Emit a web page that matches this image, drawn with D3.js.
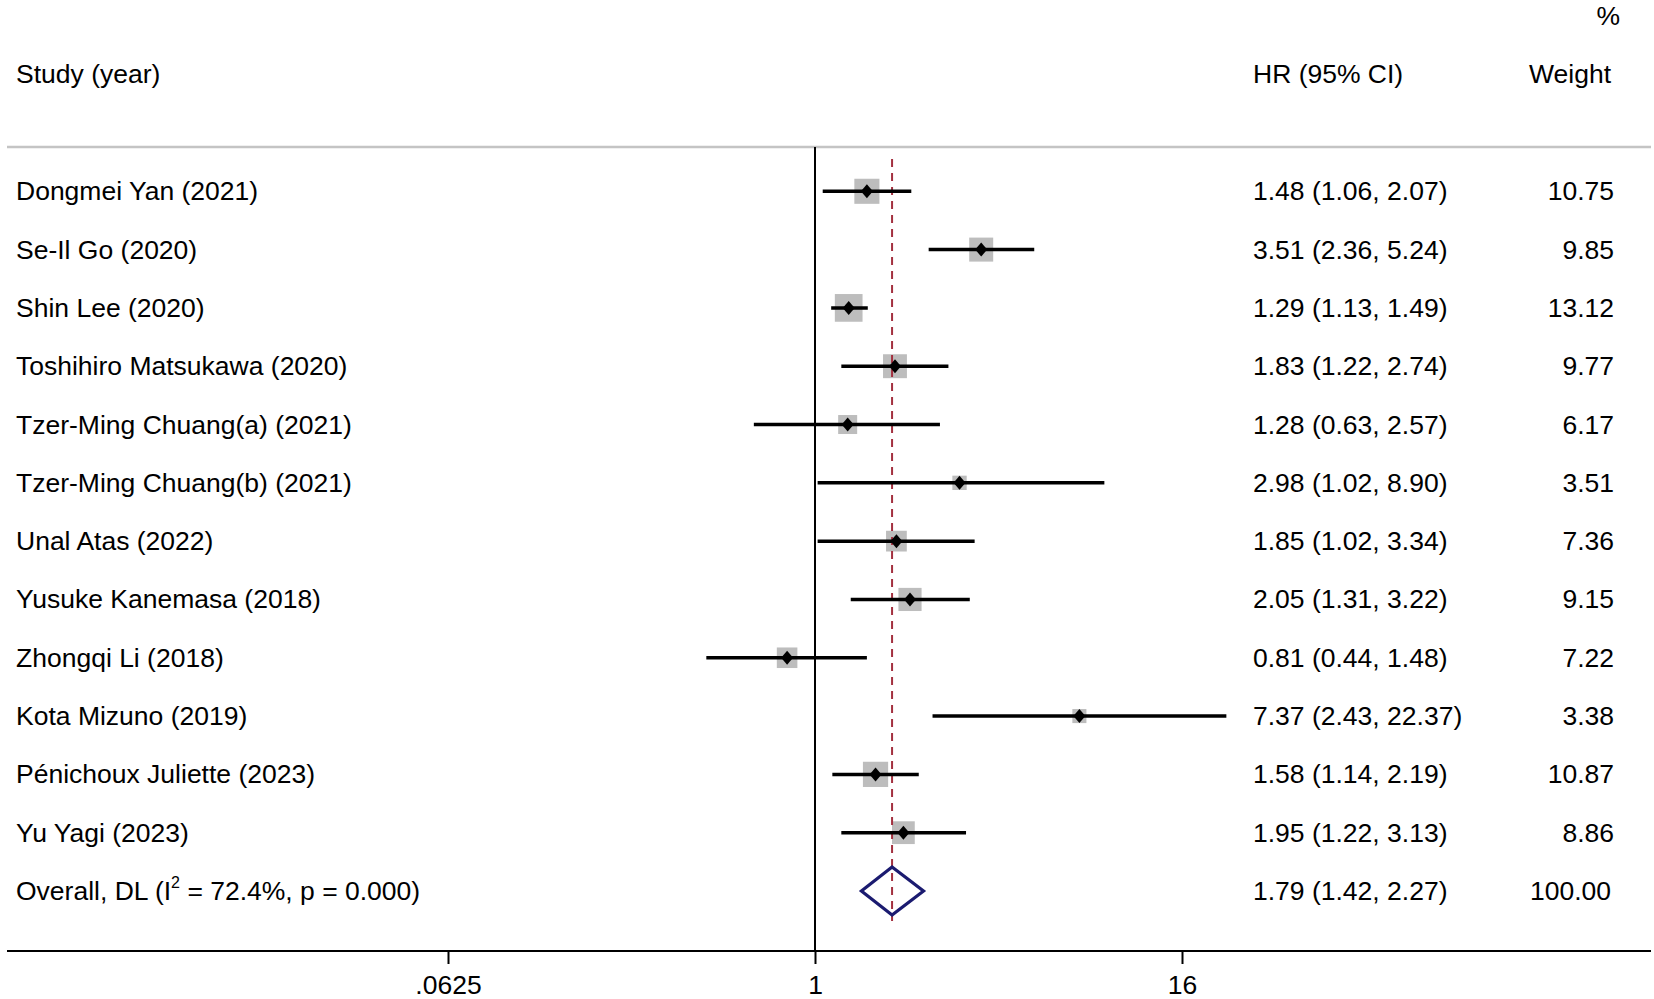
<!DOCTYPE html>
<html><head><meta charset="utf-8">
<script src="https://cdn.jsdelivr.net/npm/d3@7"></script>
<style>
body{margin:0;background:#fff;}
svg{display:block;font-family:"Liberation Sans",Arial,sans-serif;}
</style>
</head><body>
<svg id="chart" width="1654" height="999"></svg>
<script>
// ---- data ----
const studies = [
  "Dongmei Yan (2021)",
  "Se-Il Go (2020)",
  "Shin Lee (2020)",
  "Toshihiro Matsukawa (2020)",
  "Tzer-Ming Chuang(a) (2021)",
  "Tzer-Ming Chuang(b) (2021)",
  "Unal Atas (2022)",
  "Yusuke Kanemasa (2018)",
  "Zhongqi Li (2018)",
  "Kota Mizuno (2019)",
  "Pénichoux Juliette (2023)",
  "Yu Yagi (2023)"
];
const hr      = [1.48, 3.51, 1.29, 1.83, 1.28, 2.98, 1.85, 2.05, 0.81, 7.37, 1.58, 1.95];
const lower   = [1.06, 2.36, 1.13, 1.22, 0.63, 1.02, 1.02, 1.31, 0.44, 2.43, 1.14, 1.22];
const upper   = [2.07, 5.24, 1.49, 2.74, 2.57, 8.90, 3.34, 3.22, 1.48, 22.37, 2.19, 3.13];
const weights = [10.75, 9.85, 13.12, 9.77, 6.17, 3.51, 7.36, 9.15, 7.22, 3.38, 10.87, 8.86];
const overallHR = 1.79, overallLower = 1.42, overallUpper = 2.27, overallWeight = 100.00;
const overallLabelA = "Overall, DL (I", overallLabelSup = "2", overallLabelB = " = 72.4%, p = 0.000)";
const headers = {study: "Study (year)", ci: "HR (95% CI)", weight: "Weight", pct: "%"};
const tickValues = [0.0625, 1, 16];
const tickLabels = [".0625", "1", "16"];

// ---- layout ----
const svg = d3.select("#chart");
const FS = 26.5;
const f2 = d3.format(".2f");
const x = d3.scaleLog().base(2).domain([0.0625, 16]).range([448, 1182]);
const y = d3.scalePoint().domain(d3.range(studies.length + 1)).range([191.3, 891]);
const axisY = 951, topLineY = 147;
const colStudy = 16, colCI = 1253, colW = 1614;

// header
svg.append("text").attr("x", 1620).attr("y", 25).attr("text-anchor", "end")
  .attr("font-size", FS).text(headers.pct);
svg.append("text").attr("x", colStudy).attr("y", 83).attr("font-size", FS).text(headers.study);
svg.append("text").attr("x", colCI).attr("y", 83).attr("font-size", FS).text(headers.ci);
svg.append("text").attr("x", 1611).attr("y", 83).attr("text-anchor", "end")
  .attr("font-size", FS).text(headers.weight);

svg.append("line").attr("x1", 7).attr("x2", 1651).attr("y1", topLineY).attr("y2", topLineY)
  .attr("stroke", "#c4c4c4").attr("stroke-width", 2.5);

// null line
svg.append("line").attr("x1", x(1)).attr("x2", x(1)).attr("y1", topLineY).attr("y2", axisY)
  .attr("stroke", "#000").attr("stroke-width", 2);

const idx = d3.range(studies.length);

// boxes
svg.append("g").selectAll("rect").data(idx).join("rect")
  .attr("x", i => x(hr[i]) - 3.83 * Math.sqrt(weights[i]))
  .attr("y", i => y(i) - 3.83 * Math.sqrt(weights[i]))
  .attr("width", i => 7.65 * Math.sqrt(weights[i]))
  .attr("height", i => 7.65 * Math.sqrt(weights[i]))
  .attr("fill", "#bdbdbd");

// overall effect dashed line
svg.append("line").attr("x1", x(overallHR)).attr("x2", x(overallHR))
  .attr("y1", 159).attr("y2", 921)
  .attr("stroke", "#a3303f").attr("stroke-width", 2).attr("stroke-dasharray", "8,6");

// CI lines
svg.append("g").selectAll("line").data(idx).join("line")
  .attr("x1", i => x(lower[i])).attr("x2", i => x(upper[i]))
  .attr("y1", i => y(i)).attr("y2", i => y(i))
  .attr("stroke", "#000").attr("stroke-width", 3.5);

// point markers
svg.append("g").selectAll("path").data(idx).join("path")
  .attr("d", i => {
    const cx = x(hr[i]), cy = y(i);
    return `M${cx - 6},${cy}L${cx},${cy - 7}L${cx + 6},${cy}L${cx},${cy + 7}Z`;
  })
  .attr("fill", "#000");

// overall diamond
const oy = y(studies.length);
svg.append("path")
  .attr("d", `M${x(overallLower)},${oy}L${x(overallHR)},${oy - 24}L${x(overallUpper)},${oy}L${x(overallHR)},${oy + 24}Z`)
  .attr("fill", "none").attr("stroke", "#1b1b70").attr("stroke-width", 3.2)
  .attr("stroke-linejoin", "miter");

// text columns
const tg = svg.append("g").attr("font-size", FS);
tg.selectAll("text.s").data(idx).join("text").attr("class", "s")
  .attr("x", colStudy).attr("y", i => y(i) + 9).text(i => studies[i]);
tg.selectAll("text.c").data(idx).join("text").attr("class", "c")
  .attr("x", colCI).attr("y", i => y(i) + 9)
  .text(i => `${f2(hr[i])} (${f2(lower[i])}, ${f2(upper[i])})`);
tg.selectAll("text.w").data(idx).join("text").attr("class", "w")
  .attr("x", colW).attr("y", i => y(i) + 9).attr("text-anchor", "end")
  .text(i => f2(weights[i]));

const ot = tg.append("text").attr("x", colStudy).attr("y", oy + 9);
ot.append("tspan").text(overallLabelA);
ot.append("tspan").attr("font-size", 16).attr("dy", -12).text(overallLabelSup);
ot.append("tspan").attr("dy", 12).text(overallLabelB);
tg.append("text").attr("x", colCI).attr("y", oy + 9)
  .text(`${f2(overallHR)} (${f2(overallLower)}, ${f2(overallUpper)})`);
tg.append("text").attr("x", 1611).attr("y", oy + 9).attr("text-anchor", "end")
  .text(f2(overallWeight));

// x axis
svg.append("line").attr("x1", 7).attr("x2", 1651).attr("y1", axisY).attr("y2", axisY)
  .attr("stroke", "#000").attr("stroke-width", 2);
const ax = svg.append("g").attr("transform", `translate(0,${axisY})`)
  .call(d3.axisBottom(x).tickValues(tickValues).tickSize(13).tickPadding(11)
    .tickFormat((d, i) => tickLabels[i]));
ax.select(".domain").remove();
ax.selectAll(".tick line").attr("stroke", "#000").attr("stroke-width", 2);
ax.selectAll(".tick text").attr("font-size", FS).attr("font-family", "Liberation Sans, Arial, sans-serif")
  .attr("fill", "#000");
</script>
</body></html>
